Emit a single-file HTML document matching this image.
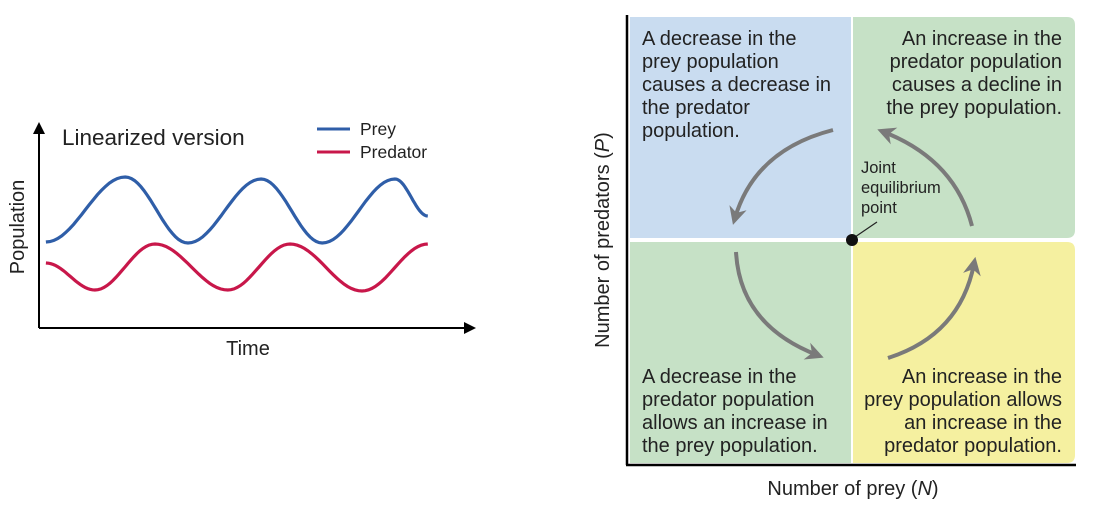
<!DOCTYPE html>
<html><head><meta charset="utf-8"><style>
body{margin:0;background:#fff;}
svg{display:block;font-family:"Liberation Sans",sans-serif;}
</style></head><body>
<svg width="1106" height="505" viewBox="0 0 1106 505">
<defs>
<marker id="ah" viewBox="0 0 10 10" refX="5" refY="5" markerWidth="6" markerHeight="6" orient="auto"><path d="M0,0L10,5L0,10z" fill="#000"/></marker>
<marker id="ga" viewBox="0 0 10 10" refX="6" refY="5" markerWidth="4.5" markerHeight="4.5" orient="auto"><path d="M0,0L10,5L0,10L3,5z" fill="#7a7a7a"/></marker>
</defs>
<g id="left-chart">
<line x1="39" y1="328" x2="39" y2="128" stroke="#000" stroke-width="2" marker-end="url(#ah)"/>
<line x1="39" y1="328" x2="470" y2="328" stroke="#000" stroke-width="2" marker-end="url(#ah)"/>
<text x="62" y="145" font-size="22.5" fill="#222">Linearized version</text>
<line x1="317" y1="129" x2="350" y2="129" stroke="#2f5ea8" stroke-width="3"/>
<text x="360" y="135" font-size="17.5" fill="#222">Prey</text>
<line x1="317" y1="152" x2="350" y2="152" stroke="#c8174a" stroke-width="3"/>
<text x="360" y="158" font-size="17.5" fill="#222">Predator</text>
<text transform="translate(24,227) rotate(-90)" text-anchor="middle" font-size="20" fill="#222">Population</text>
<text x="248" y="355" text-anchor="middle" font-size="20" fill="#222">Time</text>
<path id="prey-line" fill="none" stroke="#2f5ea8" stroke-width="3.2"/>
<path id="pred-line" fill="none" stroke="#c8174a" stroke-width="3.2"/>
</g>
<g>
<path d="M630,17H851V238H630Z" fill="#c9dcf0"/>
<path d="M853,17H1067Q1075,17 1075,25V230Q1075,238 1067,238H853Z" fill="#c6e1c6"/>
<path d="M630,242H851V463H630Z" fill="#c6e1c6"/>
<path d="M853,242H1067Q1075,242 1075,250V455Q1075,463 1067,463H853Z" fill="#f5f0a0"/>
<line x1="627" y1="15" x2="627" y2="465" stroke="#000" stroke-width="2.5"/>
<line x1="626" y1="465" x2="1076" y2="465" stroke="#000" stroke-width="2.5"/>
<g font-size="20" fill="#222">
<text y="45"><tspan x="642">A decrease in the</tspan><tspan x="642" dy="23">prey population</tspan><tspan x="642" dy="23">causes a decrease in</tspan><tspan x="642" dy="23">the predator</tspan><tspan x="642" dy="23">population.</tspan></text>
<text y="45" text-anchor="end"><tspan x="1062">An increase in the</tspan><tspan x="1062" dy="23">predator population</tspan><tspan x="1062" dy="23">causes a decline in</tspan><tspan x="1062" dy="23">the prey population.</tspan></text>
<text y="383"><tspan x="642">A decrease in the</tspan><tspan x="642" dy="23">predator population</tspan><tspan x="642" dy="23">allows an increase in</tspan><tspan x="642" dy="23">the prey population.</tspan></text>
<text y="383" text-anchor="end"><tspan x="1062">An increase in the</tspan><tspan x="1062" dy="23">prey population allows</tspan><tspan x="1062" dy="23">an increase in the</tspan><tspan x="1062" dy="23">predator population.</tspan></text>
</g>
<text y="173" font-size="16.5" fill="#222"><tspan x="861">Joint</tspan><tspan x="861" dy="20">equilibrium</tspan><tspan x="861" dy="20">point</tspan></text>
<line x1="855" y1="237" x2="877" y2="222" stroke="#222" stroke-width="1.2"/>
<circle cx="852" cy="240" r="6" fill="#111"/>
<g fill="none" stroke="#7a7a7a" stroke-width="4">
<path d="M833,130Q755,150 735,218" marker-end="url(#ga)"/>
<path d="M972,226Q955,160 884,132" marker-end="url(#ga)"/>
<path d="M736,252Q740,325 817,355" marker-end="url(#ga)"/>
<path d="M888,358Q960,335 974,264" marker-end="url(#ga)"/>
</g>
<text transform="translate(609,240) rotate(-90)" text-anchor="middle" font-size="20" fill="#222">Number of predators (<tspan font-style="italic">P</tspan>)</text>
<text x="853" y="495" text-anchor="middle" font-size="20" fill="#222">Number of prey (<tspan font-style="italic">N</tspan>)</text>
</g>
</svg>
<script>
const preyTimes=[1.6,19.9,34.4,51.3,65.4,82.2,89.8];
const preyValues=[43,75.5,42.5,74.5,42.5,74.5,56];
const predTimes=[1.6,12.9,26.8,43.6,58,74.6,89.8];
const predValues=[32.5,19,42,19,42,18.5,42];
function xs(t){return 39+t*4.33;}
function ys(v){return 328-v*2;}
function build(ts,vs){
  let d='M'+xs(ts[0]).toFixed(1)+','+ys(vs[0]).toFixed(1);
  for(let i=0;i<ts.length-1;i++){
    for(let k=1;k<=20;k++){
      const f=k/20,m=(1-Math.cos(Math.PI*f))/2;
      const t=ts[i]+(ts[i+1]-ts[i])*f,v=vs[i]+(vs[i+1]-vs[i])*m;
      d+='L'+xs(t).toFixed(1)+','+ys(v).toFixed(1);
    }
  }
  return d;
}
document.getElementById('prey-line').setAttribute('d',build(preyTimes,preyValues));
document.getElementById('pred-line').setAttribute('d',build(predTimes,predValues));
</script>
</body></html>
